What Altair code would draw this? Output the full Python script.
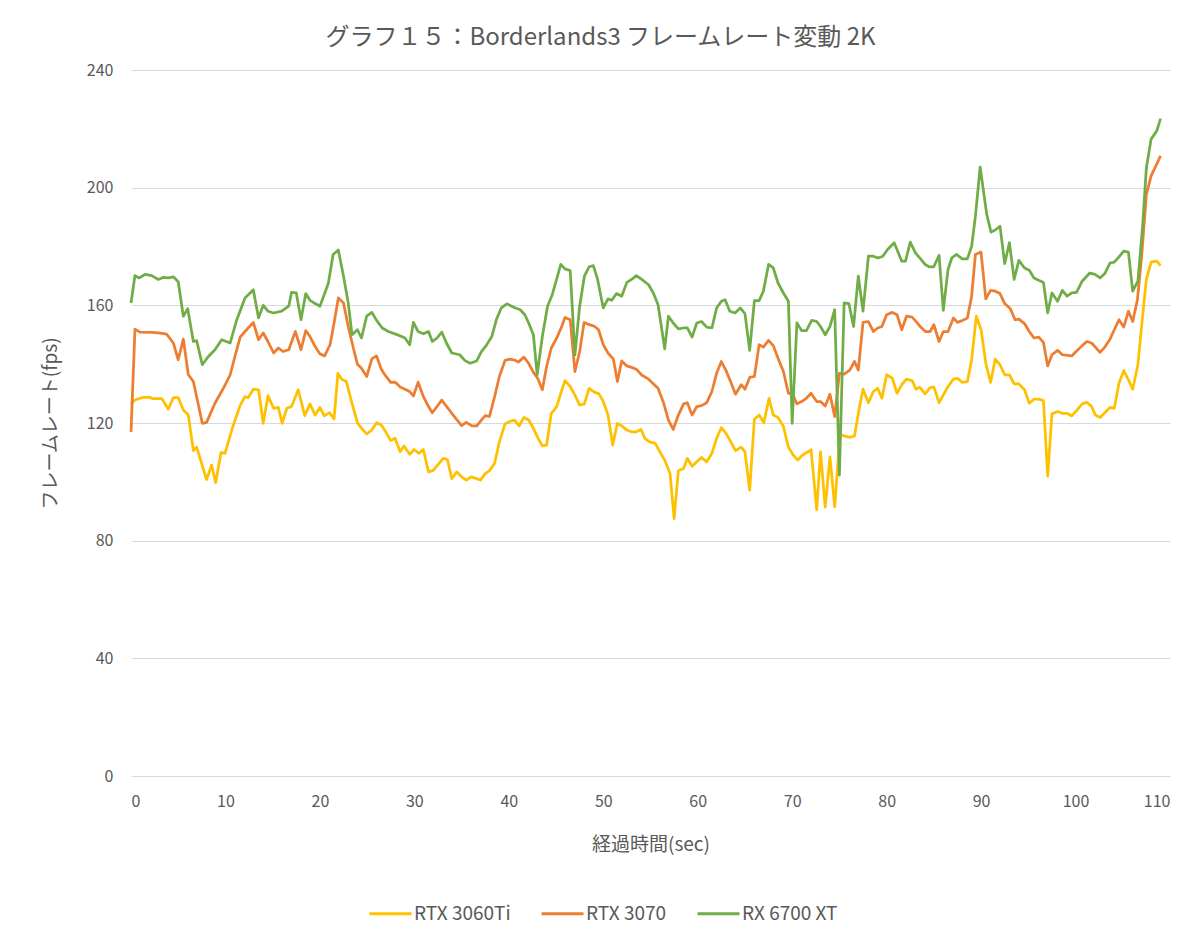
import altair as alt
import pandas as pd

title_text = "グラフ１５：Borderlands3 フレームレート変動 2K"
x_title = "経過時間(sec)"
y_title = "フレームレート(fps)"
series_names = ["RTX 3060Ti", "RTX 3070", "RX 6700 XT"]
series_colors = ["#FFC000", "#ED7D31", "#70AD47"]
x_ticks = [0, 10, 20, 30, 40, 50, 60, 70, 80, 90, 100, 110]
y_ticks = [0, 40, 80, 120, 160, 200, 240]

t_3060ti = [0, 0.42, 1.13, 1.84, 2.37, 3.25, 3.95, 4.48, 5.0, 5.54, 6.07, 6.6, 6.95, 8.0, 8.54, 8.96, 9.53, 9.95,
            10.8, 11.56, 12.07, 12.4, 12.95, 13.5, 14.0, 14.5, 15.1, 15.6, 16.0, 16.5, 17.0, 17.7, 18.4, 18.95,
            19.5, 20.0, 20.46, 21.0, 21.5, 21.9, 22.3, 22.8, 23.4, 23.97, 24.4, 24.95, 25.5, 26.0, 26.5, 26.96,
            27.5, 27.95, 28.5, 28.9, 29.5, 29.97, 30.5, 30.95, 31.5, 32.0, 33.05, 33.5, 33.96, 34.5, 35.0, 35.5,
            36.0, 36.6, 37.0, 37.5, 37.95, 38.5, 39.0, 39.6, 40.1, 40.6, 41.1, 41.6, 42.1, 42.6, 43.1, 43.55,
            44.0, 44.5, 45.07, 45.5, 45.95, 46.5, 47.0, 47.5, 48.0, 48.5, 49.05, 49.55, 50.0, 50.5, 51.0, 51.5,
            51.95, 52.5, 53.0, 53.5, 54.0, 54.4, 54.9, 55.5, 56.0, 56.5, 57.07, 57.5, 57.95, 58.5, 58.9, 59.4,
            59.9, 60.4, 60.95, 61.5, 62.0, 62.5, 63.0, 63.5, 64.0, 64.6, 65.0, 65.5, 66.0, 66.5, 67.0, 67.55,
            68.0, 68.5, 69.07, 69.6, 70.1, 70.6, 71.1, 72.0, 72.6, 73.0, 73.5, 74.0, 74.5, 75.07, 75.5, 76.1,
            76.6, 77.07, 77.5, 78.07, 78.6, 79.05, 79.5, 80.0, 80.6, 81.1, 81.6, 82.1, 82.7, 83.1, 83.5, 84.07,
            84.6, 85.0, 85.55, 86.0, 86.5, 87.07, 87.5, 88.0, 88.55, 89.0, 89.5, 90.0, 90.5, 91.0, 91.5, 92.0,
            92.5, 93.0, 93.5, 94.0, 94.6, 95.1, 95.6, 96.1, 96.6, 97.05, 97.5, 98.1, 98.6, 99.1, 99.6, 100.1,
            100.7, 101.2, 101.7, 102.1, 102.6, 103.1, 103.65, 104.1, 104.6, 105.1, 105.6, 106.05, 106.6, 107.1,
            107.5, 108.0, 108.6, 109.0]
v_3060ti = [126.5, 127.8, 128.6, 128.8, 128.3, 128.3, 124.7, 128.6, 128.6, 124.4, 122.7, 110.6, 111.8, 100.8,
            105.7, 99.7, 110, 109.7, 119, 126, 129, 128.6, 131.5, 131.3, 119.9, 129.3, 125, 125.3, 119.9, 125,
            125.6, 131.3, 122.5, 126.5, 122.7, 125.3, 122.4, 123.5, 121.4, 136.9, 134.9, 134.1, 126.7, 120.1,
            118.2, 116.3, 117.6, 120.1, 119.3, 117, 114, 114.8, 110.2, 112.2, 109.4, 111, 109.7, 111, 103.4,
            103.9, 108, 107.6, 101.1, 103.4, 101.7, 100.6, 101.7, 101.1, 100.6, 102.8, 103.8, 106.3, 113.6,
            119.7, 120.5, 121, 119, 121.9, 121, 118.2, 114.8, 112.2, 112.5, 123.3, 125.6, 130.1, 134.4, 132.4,
            129.5, 126.1, 126.5, 131.8, 130.5, 129.9, 127.3, 122.7, 112.5, 119.9, 119, 117.6, 117, 117, 117.8,
            114.8, 113.6, 113.1, 110.2, 107.4, 102.8, 87.5, 103.8, 104.5, 108, 105.3, 106.8, 108.3, 106.8, 109.7,
            114.8, 118.4, 116.5, 113.6, 110.6, 111.8, 110.2, 97.2, 121.3, 122.7, 120.1, 128.4, 122.7, 121.9,
            118.8, 111.8, 109.1, 107.4, 109.1, 110.9, 90.5, 110.2, 91.4, 108.5, 91.6, 116.3, 115.6, 115.1, 115.6,
            124.4, 131.5, 126.9, 130.7, 131.8, 128.4, 136.4, 135.2, 130.1, 133, 134.9, 134.4, 131.5, 132.2, 129.9,
            132, 132.2, 126.9, 129.5, 132.4, 134.9, 135.2, 133.8, 134.1, 141.5, 156.3, 151.7, 140.3, 133.8, 141.7,
            139.8, 136.4, 136.4, 133.3, 133.3, 131.3, 126.7, 128.1, 128.1, 127.6, 101.9, 123.1, 123.9, 123.3,
            123.3, 122.4, 124.2, 126.5, 127, 125.6, 122.7, 121.9, 123.5, 125.3, 125, 133.5, 137.8, 134.7, 131.5,
            139.8, 156.3, 168.8, 174.7, 175, 173.5]

t_3070 = [0, 0.42, 0.95, 2.19, 2.9, 3.77, 4.48, 5.0, 5.54, 6.07, 6.6, 7.55, 8.0, 8.89, 9.78, 10.5, 11.0, 11.56,
          12.07, 12.95, 13.5, 14.0, 14.5, 15.1, 15.6, 16.1, 16.7, 17.4, 18.0, 18.5, 18.95, 19.5, 20.0, 20.5,
          21.07, 21.5, 21.95, 22.5, 23.0, 23.5, 23.97, 24.4, 24.95, 25.5, 26.0, 26.5, 26.96, 27.5, 27.95, 28.5,
          29.0, 29.5, 29.9, 30.4, 30.95, 31.5, 31.9, 32.9, 33.96, 35.0, 35.5, 36.1, 36.6, 37.1, 37.5, 37.95,
          38.5, 39.0, 39.6, 40.1, 40.7, 41.0, 41.6, 42.1, 42.6, 43.05, 43.55, 44.0, 44.5, 45.07, 45.6, 45.95,
          46.5, 47.0, 47.5, 47.97, 48.4, 49.1, 49.5, 50.0, 50.5, 51.07, 51.5, 51.95, 52.5, 53.0, 53.5, 54.07,
          54.8, 55.3, 55.8, 56.4, 56.9, 57.4, 57.95, 58.5, 58.9, 59.4, 59.9, 60.4, 60.95, 61.5, 62.0, 62.5,
          63.0, 63.4, 64.0, 64.6, 65.0, 65.5, 66.0, 66.5, 66.95, 67.5, 68.0, 68.5, 69.07, 69.6, 70.0, 70.5,
          71.0, 71.5, 72.0, 72.6, 73.0, 73.5, 74.0, 74.5, 75.0, 75.5, 76.1, 76.6, 77.0, 77.5, 78.07, 78.6,
          79.05, 79.5, 80.0, 80.6, 81.1, 81.6, 82.1, 82.7, 83.2, 83.6, 84.1, 84.6, 85.0, 85.55, 86.0, 86.5,
          87.07, 87.5, 88.0, 88.55, 89.0, 89.4, 89.99, 90.5, 91.0, 91.5, 92.0, 92.5, 93.1, 93.6, 94.0, 94.6,
          95.1, 95.6, 96.1, 96.6, 97.05, 97.5, 98.1, 98.6, 99.6, 99.9, 100.7, 101.2, 101.7, 102.6, 103.1,
          103.65, 104.1, 104.6, 105.1, 105.6, 106.05, 106.55, 107.0, 107.5, 108.0, 108.6, 109.0]
v_3070 = [117, 151.9, 150.9, 150.8, 150.6, 150.2, 147.2, 141.5, 148.5, 136.4, 134.1, 119.9, 120.2, 126.7, 131.8,
          136.4, 142.6, 149.2, 151.1, 154.2, 148.3, 150.6, 147.7, 143.8, 145.5, 144.3, 144.9, 151.1, 144.9,
          151.4, 149.4, 146, 143.5, 142.8, 146.6, 154, 162.5, 160.8, 152.8, 146, 140, 138.6, 135.8, 141.8,
          142.8, 138.3, 136, 133.8, 133.9, 132.2, 131.5, 130.7, 129.2, 133.9, 129, 125.6, 123.5, 127.8, 123.3,
          119.1, 120.2, 119, 119, 121, 122.5, 122.2, 129, 135.8, 141.3, 141.7, 141.3, 140.7, 142.4, 140.3,
          137.2, 135.2, 131.3, 139.2, 145.5, 148.9, 152.8, 155.9, 155.1, 137.5, 144.3, 154.2, 153.6, 152.8,
          151.7, 146.6, 143.8, 141.7, 134.1, 141.1, 139.4, 138.9, 138.3, 136.3, 134.9, 133.3, 131.8, 126.7,
          121, 117.8, 122.7, 126.5, 126.9, 122.7, 125.6, 125.9, 126.9, 130.7, 136.9, 140.9, 137.8, 134.7,
          129.8, 133, 131.5, 135.5, 135.8, 146.6, 145.8, 148.1, 146.3, 142, 137.5, 130.1, 130.1, 126.5, 127.3,
          128.4, 130.1, 127.3, 127.3, 125.8, 129.8, 122.2, 136.9, 136.6, 138, 140.9, 138, 154.2, 154.5, 151.1,
          152.3, 152.8, 156.8, 157.6, 156.8, 151.7, 156.3, 156, 154.2, 152.6, 151.1, 151.1, 153.4, 147.7,
          151.1, 151.1, 155.7, 154.2, 154.8, 155.7, 163.1, 177.3, 178.1, 162.2, 165.1, 164.8, 164, 160.6,
          158.8, 155.1, 155.3, 153.8, 151.1, 148.9, 149.2, 147.4, 139.4, 143.2, 144.7, 143.2, 142.8, 143.8,
          146.3, 147.7, 147.2, 144, 145.8, 148.5, 151.7, 155.1, 152.6, 158, 154.5, 161.9, 176.7, 197.7, 204,
          208, 210.8]

t_6700xt = [0, 0.42, 0.85, 1.48, 2.19, 2.89, 3.42, 3.95, 4.48, 5.0, 5.54, 6.0, 6.6, 6.95, 7.55, 8.19, 8.89, 9.6,
            10.5, 11.2, 12.07, 12.95, 13.5, 14.0, 14.5, 15.1, 15.95, 16.7, 17.0, 17.5, 18.0, 18.5, 18.95, 19.5,
            20.0, 20.5, 20.9, 21.4, 21.95, 22.5, 23.0, 23.4, 23.97, 24.4, 24.95, 25.5, 26.0, 26.6, 27.24, 27.95,
            28.65, 29.0, 29.5, 29.9, 30.4, 30.95, 31.5, 31.9, 32.4, 32.9, 33.4, 33.96, 34.8, 35.36, 35.9, 36.6,
            37.1, 37.6, 38.2, 38.7, 39.2, 39.8, 40.3, 40.7, 41.2, 41.7, 42.1, 42.6, 43.0, 43.55, 44.1, 44.6,
            45.07, 45.5, 45.95, 46.5, 47.0, 47.5, 48.0, 48.5, 48.95, 49.4, 50.0, 50.5, 50.9, 51.4, 51.95, 52.5,
            53.0, 53.5, 54.07, 54.8, 55.3, 55.8, 56.2, 56.5, 56.9, 57.4, 57.95, 58.5, 58.9, 59.4, 59.9, 60.4,
            60.95, 61.5, 62.0, 62.5, 62.9, 63.4, 63.95, 64.5, 65.0, 65.5, 66.0, 66.5, 66.95, 67.5, 68.0, 68.5,
            69.07, 69.6, 70.0, 70.5, 71.0, 71.5, 72.07, 72.6, 73.0, 73.5, 74.0, 74.5, 75.0, 75.5, 76.0, 76.5,
            77.0, 77.5, 78.07, 78.6, 79.1, 79.6, 80.1, 80.8, 81.6, 82.0, 82.5, 83.05, 83.5, 84.07, 84.5, 85.0,
            85.55, 86.0, 86.5, 86.9, 87.4, 88.0, 88.55, 89.0, 89.4, 89.9, 90.6, 91.05, 91.5, 92.0, 92.5, 93.0,
            93.5, 94.0, 94.6, 95.1, 95.6, 96.1, 96.6, 97.05, 97.5, 98.1, 98.6, 99.1, 99.6, 100.1, 100.7, 101.5,
            102.06, 102.6, 103.1, 103.65, 104.1, 104.6, 105.1, 105.6, 106.05, 106.6, 107.1, 107.5, 108.0, 108.6,
            109.0]
v_6700xt = [160.8, 170.1, 169.3, 170.5, 170.1, 168.8, 169.5, 169.3, 169.7, 168, 156.3, 158.9, 147.7, 148, 139.8,
            142.6, 144.9, 148.3, 147.2, 155.1, 162.5, 165.3, 155.7, 160, 158, 157.4, 158, 159.7, 164.4, 164.2,
            155.1, 164, 161.7, 160.6, 159.7, 164, 167.6, 177.3, 178.8, 169.9, 160.8, 150, 151.7, 148.9, 156.3,
            157.6, 154.9, 152.3, 151.1, 150.3, 149.4, 148.9, 146.6, 154.2, 151.1, 150.3, 151.1, 147.7, 148.9,
            150.9, 147.2, 143.8, 143.2, 141.2, 140.3, 141.1, 144.3, 146.3, 149.4, 155.3, 159.1, 160.5, 159.7,
            159.1, 158.5, 156.8, 154, 150, 136.4, 149.4, 159.7, 163.6, 169, 173.9, 172.4, 171.8, 143.2, 159.7,
            169.9, 173.1, 173.5, 168.8, 159.1, 162.2, 161.7, 164, 163.1, 167.8, 168.8, 170.1, 168.8, 167, 164.2,
            160.2, 151.7, 145.2, 156.3, 154, 152, 152.3, 152.3, 149.2, 154, 154.5, 152.6, 152.3, 159.1, 161.4,
            161.9, 158, 157.4, 159.1, 157.2, 144.7, 161.6, 161.6, 164.8, 173.9, 172.7, 167.6, 164.2, 161.4, 119.9,
            154, 151.4, 151.4, 154.9, 154.5, 152.8, 150, 152.8, 158.5, 102.3, 160.8, 160.6, 152.8, 169.9, 158,
            176.7, 176.7, 176.1, 176.7, 179, 181.3, 175, 175, 181.5, 177.8, 176.1, 173.9, 173.1, 173.1, 177,
            158.3, 172.2, 176.1, 177.3, 175.8, 175.8, 180.1, 190.3, 207, 190.9, 184.9, 185.6, 186.9, 174.2, 181.3,
            168.8, 175.3, 172.7, 171.9, 169.3, 168.5, 167.8, 157.4, 164.2, 161.4, 165.1, 163.1, 164.2, 164.4,
            168.2, 171, 170.5, 169.3, 170.8, 174.4, 174.7, 176.5, 178.4, 178.1, 164.8, 168.2, 186.9, 206.8,
            216.5, 219.3, 223.5]

rows = []
for name, ts, vs in zip(series_names, [t_3060ti, t_3070, t_6700xt], [v_3060ti, v_3070, v_6700xt]):
    for t, v in zip(ts, vs):
        rows.append({"series": name, "t": t, "fps": v})
df = pd.DataFrame(rows)

FONT = "Noto Sans CJK JP"
GREY = "#595959"

chart = alt.Chart(df).mark_line(strokeWidth=2.75, strokeJoin="round").encode(
    x=alt.X("t:Q",
            scale=alt.Scale(domain=[0, 110], nice=False),
            axis=alt.Axis(values=x_ticks, title=x_title, grid=False, domain=False, ticks=False,
                          labelPadding=17, titlePadding=26)),
    y=alt.Y("fps:Q",
            scale=alt.Scale(domain=[0, 240], nice=False),
            axis=alt.Axis(values=y_ticks, title=y_title, domain=False, ticks=False,
                          labelPadding=18, titlePadding=26)),
    color=alt.Color("series:N",
                    scale=alt.Scale(domain=series_names, range=series_colors),
                    legend=alt.Legend(orient="none", legendX=237, legendY=821, direction="horizontal",
                                      title=None, symbolType="stroke", symbolSize=1764,
                                      symbolStrokeWidth=3, columnPadding=24, labelOffset=1,
                                      labelLimit=400)),
    detail="series:N",
).properties(
    width=1039,
    height=706,
    title=alt.Title(title_text, fontSize=24, color=GREY, font=FONT, fontWeight="normal",
                    anchor="middle", dx=-50, offset=12),
    autosize=alt.AutoSizeParams(type="none"),
    padding={"left": 123, "top": 62, "right": 22, "bottom": 162},
).configure_view(stroke=None).configure_axis(
    labelFont=FONT, labelFontSize=16, labelColor=GREY,
    titleFont=FONT, titleFontSize=19, titleColor=GREY, titleFontWeight="normal",
    gridColor="#d9d9d9", gridWidth=1,
).configure_legend(
    labelFont=FONT, labelFontSize=19, labelColor=GREY,
)

chart.save("out.html", embed_options={"renderer": "svg", "actions": False})
